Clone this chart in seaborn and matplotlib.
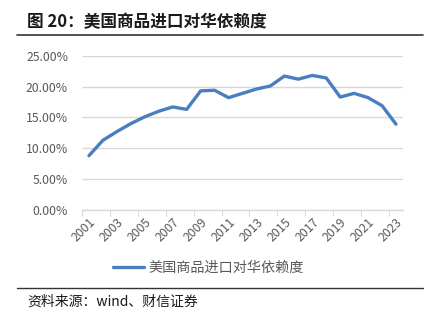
import matplotlib
matplotlib.use("Agg")
import matplotlib.pyplot as plt
import seaborn as sns
import pandas as pd
from matplotlib.lines import Line2D

years = list(range(2001, 2024))
dependence = [8.8, 11.3, 12.7, 14.0, 15.1, 16.0, 16.7, 16.3, 19.3, 19.4, 18.2, 18.9,
              19.6, 20.1, 21.7, 21.2, 21.8, 21.4, 18.3, 18.9, 18.2, 16.9, 13.9]
series_name = "美国商品进口对华依赖度"
title_text = "图 20：美国商品进口对华依赖度"
source_text = "资料来源：wind、财信证券"
ytick_vals = [0, 5, 10, 15, 20, 25]

sns.set_theme(style="white")
plt.rcParams['font.family'] = ['Noto Sans CJK SC', 'DejaVu Sans']

df = pd.DataFrame({"idx": range(len(years)), "year": years, "val": dependence})

fig = plt.figure(figsize=(4.37, 3.23), dpi=100)
ax = fig.add_axes([82/437, 1-210/323, (403-82)/437, (210-55.7)/323])

line_color = "#4A7EBF"
sns.lineplot(data=df, x="idx", y="val", ax=ax, color=line_color, linewidth=2.4,
             legend=False)

ax.set_xlim(-0.5, len(years) - 0.5)
ax.set_ylim(0, 25)
ax.set_yticks(ytick_vals)
ax.set_yticklabels([f"{v:.2f}%" for v in ytick_vals], fontsize=8.8, color="#595959")
ax.yaxis.grid(True, color="#D9D9D9", linewidth=1)
ax.tick_params(axis='y', length=0, pad=10)

# tick marks between category groups
ax.set_xticks([-0.5 + 2 * k for k in range(12)])
ax.set_xticklabels([])
ax.tick_params(axis='x', which='major', length=4, width=0.8, color="#D9D9D9", direction='out', bottom=True)
ax.set_xticks(list(range(0, len(years), 2)), minor=True)
ax.set_xticklabels([str(years[i]) for i in range(0, len(years), 2)], minor=True,
                   rotation=45, ha='right', rotation_mode='anchor', fontsize=8.8, color="#595959")
ax.tick_params(axis='x', which='minor', length=0, pad=4)

for s in ["top", "right", "left"]:
    ax.spines[s].set_visible(False)
ax.spines["bottom"].set_color("#D9D9D9")
ax.spines["bottom"].set_linewidth(1)
ax.set_xlabel("")
ax.set_ylabel("")

# legend
handle = Line2D([0], [0], color=line_color, linewidth=2.4)
fig.legend([handle], [series_name], loc='center', bbox_to_anchor=(208/437, 1-268/323),
           frameon=False, fontsize=10.2, handlelength=2.2, handletextpad=0.3,
           labelcolor="#595959")

# title and rules
fig.text(27/437, 1-22/323, title_text, fontsize=12, fontweight='bold', color="#1a1a1a",
         va='center', ha='left')
fig.add_artist(Line2D([17/437, 423/437], [1-35/323, 1-35/323], color="#333333", linewidth=1.2))
fig.add_artist(Line2D([17/437, 423/437], [1-287.5/323, 1-287.5/323], color="#333333", linewidth=1.0))
fig.text(27/437, 1-302/323, source_text, fontsize=10, style='italic', color="#1a1a1a",
         va='center', ha='left')

fig.savefig("out.png", dpi=100, facecolor="white")
